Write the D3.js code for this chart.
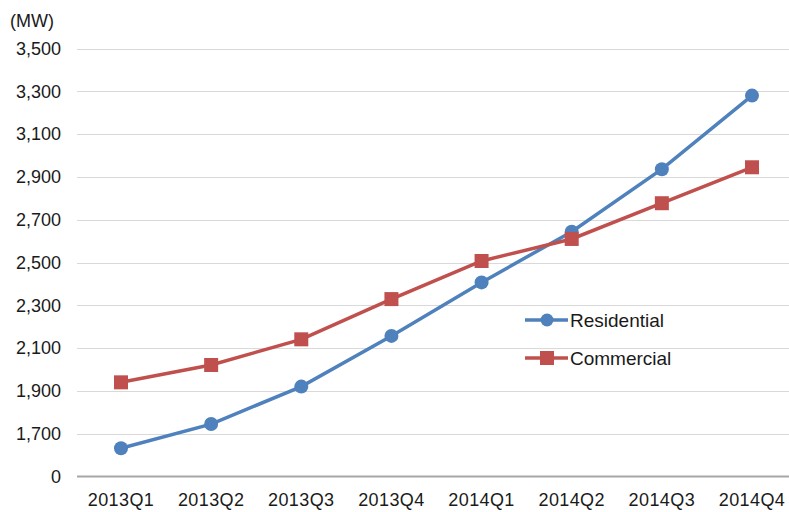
<!DOCTYPE html>
<html>
<head>
<meta charset="utf-8">
<script src="https://cdn.jsdelivr.net/npm/d3@7"></script>
<style>
  body { margin: 0; background: #fff; }
  text { font-family: "Liberation Sans", Arial, sans-serif; fill: #1a1a1a; }
</style>
</head>
<body>
<div id="chart"></div>
<script>
const quarters = ["2013Q1", "2013Q2", "2013Q3", "2013Q4", "2014Q1", "2014Q2", "2014Q3", "2014Q4"];
const residential = [1632, 1745, 1920, 2157, 2407, 2644, 2936, 3280];
const commercial = [1940, 2021, 2141, 2329, 2507, 2610, 2777, 2945];
// broken axis: bottom tick is labelled 0
const yTicks = [1500, 1700, 1900, 2100, 2300, 2500, 2700, 2900, 3100, 3300, 3500];
const yTickLabels = ["0", "1,700", "1,900", "2,100", "2,300", "2,500", "2,700", "2,900", "3,100", "3,300", "3,500"];

const width = 789, height = 512;
const svg = d3.select("#chart").append("svg")
  .attr("width", width)
  .attr("height", height);

const x = d3.scalePoint().domain(quarters).range([121, 752]);
const y = d3.scaleLinear().domain([1500, 3500]).range([476.5, 48.5]);

// gridlines
svg.append("g")
  .selectAll("line")
  .data(yTicks.slice(1))
  .enter().append("line")
  .attr("x1", 77).attr("x2", 789)
  .attr("y1", d => Math.round(y(d)) + 0.5)
  .attr("y2", d => Math.round(y(d)) + 0.5)
  .attr("stroke", "#d9d9d9")
  .attr("stroke-width", 1);

// baseline
svg.append("line")
  .attr("x1", 77).attr("x2", 789)
  .attr("y1", y(1500)).attr("y2", y(1500))
  .attr("stroke", "#a6a6a6")
  .attr("stroke-width", 2);

// y labels
svg.append("g")
  .selectAll("text")
  .data(yTicks)
  .enter().append("text")
  .attr("x", 61)
  .attr("y", d => y(d))
  .attr("dy", "0.35em")
  .attr("text-anchor", "end")
  .attr("font-size", "18px")
  .text((d, i) => yTickLabels[i]);

svg.append("text")
  .attr("x", 10).attr("y", 27)
  .attr("font-size", "18px")
  .text("(MW)");

// x labels
svg.append("g")
  .selectAll("text")
  .data(quarters)
  .enter().append("text")
  .attr("x", d => x(d))
  .attr("y", 506)
  .attr("text-anchor", "middle")
  .attr("font-size", "18px")
  .attr("letter-spacing", "0.4px")
  .text(d => d);

const line = d3.line()
  .x((d, i) => x(quarters[i]))
  .y(d => y(d));

const blue = "#4f81bd", red = "#c0504d";

svg.append("path")
  .datum(residential)
  .attr("fill", "none")
  .attr("stroke", blue)
  .attr("stroke-width", 3.5)
  .attr("d", line);

svg.append("g")
  .selectAll("circle")
  .data(residential)
  .enter().append("circle")
  .attr("cx", (d, i) => x(quarters[i]))
  .attr("cy", d => y(d))
  .attr("r", 7)
  .attr("fill", blue);

svg.append("path")
  .datum(commercial)
  .attr("fill", "none")
  .attr("stroke", red)
  .attr("stroke-width", 3.5)
  .attr("d", line);

const sq = 14;
svg.append("g")
  .selectAll("rect")
  .data(commercial)
  .enter().append("rect")
  .attr("x", (d, i) => x(quarters[i]) - sq / 2)
  .attr("y", d => y(d) - sq / 2)
  .attr("width", sq)
  .attr("height", sq)
  .attr("fill", red);

// legend
const legend = svg.append("g");
const items = [
  { name: "Residential", color: blue, shape: "circle", y: 320 },
  { name: "Commercial", color: red, shape: "rect", y: 358 }
];
items.forEach(it => {
  legend.append("line")
    .attr("x1", 525).attr("x2", 568)
    .attr("y1", it.y).attr("y2", it.y)
    .attr("stroke", it.color)
    .attr("stroke-width", 3.5);
  if (it.shape === "circle") {
    legend.append("circle")
      .attr("cx", 547).attr("cy", it.y).attr("r", 6.5)
      .attr("fill", it.color);
  } else {
    legend.append("rect")
      .attr("x", 540).attr("y", it.y - 7)
      .attr("width", 14).attr("height", 14)
      .attr("fill", it.color);
  }
  legend.append("text")
    .attr("x", 570).attr("y", it.y)
    .attr("dy", "0.35em")
    .attr("font-size", "19px")
    .text(it.name);
});
</script>
</body>
</html>
